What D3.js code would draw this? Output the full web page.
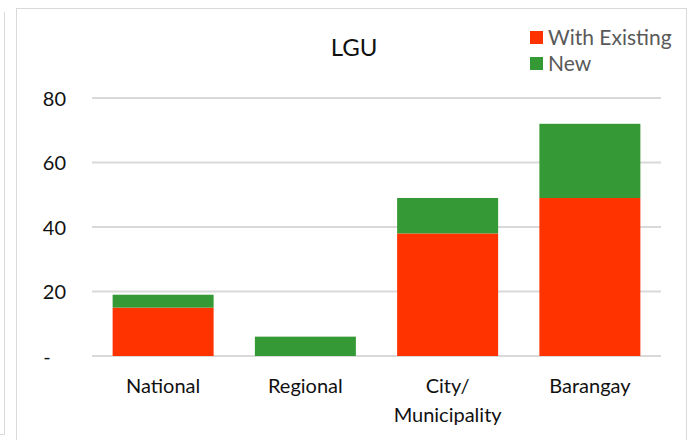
<!DOCTYPE html>
<html lang="en">
<head>
<meta charset="utf-8" />
<title>LGU</title>
<style>
  * { margin: 0; padding: 0; }
  body { background: white; font-family: Lato, "Open Sans", sans-serif; }
  svg { display: block; }
  svg text { font-family: Lato, "Open Sans", sans-serif; }
  .grid line { stroke: #d9d9d9; stroke-width: 2px; }
  .axis text { font-size: 20px; fill: #111; }
</style>
</head>
<body>
<script src="https://d3js.org/d3.v7.min.js"></script>
<div id="chart"></div>
<script>
  var categories = ["National", "Regional", "City/\nMunicipality", "Barangay"];
  var withExisting = [15, 0, 38, 49];
  var newOnes = [4, 6, 11, 23];
  var seriesNames = ["With Existing", "New"];
  var seriesColors = ["#ff3300", "#359a35"];
  var yTicks = [0, 20, 40, 60, 80];

  var W = 690, H = 440;
  var margin = {top: 98, right: 29, bottom: 85, left: 92};
  var width = W - margin.left - margin.right,
      height = H - margin.top - margin.bottom;

  var svg = d3.select("#chart").append("svg")
      .attr("width", W)
      .attr("height", H);

  // frames (this chart plus the edge of the one to the left)
  svg.append("rect")
      .attr("x", 16.5).attr("y", 8.5)
      .attr("width", 670).attr("height", 440)
      .attr("fill", "none").attr("stroke", "#d9d9d9");
  svg.append("path")
      .attr("d", "M4.5,12 V434.5 H0")
      .attr("fill", "none").attr("stroke", "#d9d9d9");

  var g = svg.append("g")
      .attr("transform", "translate(" + margin.left + "," + margin.top + ")");

  var x = d3.scaleBand()
      .domain(categories)
      .range([0, width])
      .paddingInner(0.29)
      .paddingOuter(0.145);

  var y = d3.scaleLinear()
      .domain([0, 80])
      .range([height + 1, 0]);

  // gridlines
  g.append("g").attr("class", "grid")
    .selectAll("line")
    .data(yTicks)
    .enter().append("line")
      .attr("x1", 0).attr("x2", width)
      .attr("y1", function(d) { return y(d); })
      .attr("y2", function(d) { return y(d); });

  // stacked bars
  var rows = categories.map(function(c, i) {
    return {cat: c, "With Existing": withExisting[i], "New": newOnes[i]};
  });
  var stack = d3.stack().keys(seriesNames)(rows);

  g.selectAll(".series")
    .data(stack)
    .enter().append("g")
      .attr("class", "series")
      .attr("fill", function(d, i) { return seriesColors[i]; })
    .selectAll("rect")
    .data(function(d) { return d; })
    .enter().append("rect")
      .attr("x", function(d) { return x(d.data.cat); })
      .attr("width", x.bandwidth())
      .attr("y", function(d) { return y(d[1]); })
      .attr("height", function(d) { return y(d[0]) - y(d[1]); });

  // y axis labels
  var yAxis = g.append("g").attr("class", "axis")
      .call(d3.axisLeft(y).tickValues(yTicks).tickSize(0).tickPadding(26)
        .tickFormat(function(d) { return d === 0 ? "-" : d; }));
  yAxis.select(".domain").remove();
  yAxis.selectAll("text").attr("dy", "0.35em");
  yAxis.selectAll(".tick").filter(function(d) { return d === 0; })
      .select("text").attr("text-anchor", "middle").attr("x", -45);

  // x axis labels
  var xAxis = g.append("g").attr("class", "axis")
      .attr("transform", "translate(0," + height + ")")
      .call(d3.axisBottom(x).tickSize(0).tickPadding(0).tickFormat(""));
  xAxis.select(".domain").remove();
  xAxis.selectAll(".tick").each(function(d) {
    var t = d3.select(this).append("text")
        .attr("text-anchor", "middle")
        .attr("y", 38);
    d.split("\n").forEach(function(line, i) {
      t.append("tspan").attr("x", 0).attr("dy", i === 0 ? 0 : 29).text(line);
    });
  });

  // title
  svg.append("text")
      .attr("x", 354).attr("y", 56)
      .attr("text-anchor", "middle")
      .style("font-size", "24px")
      .style("fill", "#111")
      .text("LGU");

  // legend
  var legend = svg.append("g").attr("transform", "translate(530,31)");
  seriesNames.forEach(function(name, i) {
    var row = legend.append("g").attr("transform", "translate(0," + (i * 26) + ")");
    row.append("rect").attr("width", 13).attr("height", 13).attr("fill", seriesColors[i]);
    row.append("text").attr("x", 18).attr("y", 14)
        .style("font-size", "21px").style("fill", "#595959")
        .text(name);
  });
</script>
</body>
</html>
